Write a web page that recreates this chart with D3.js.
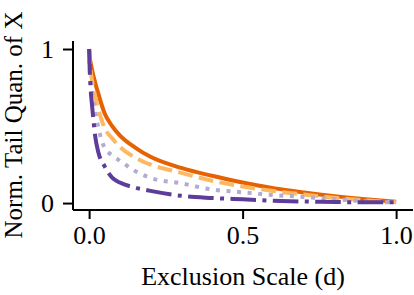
<!DOCTYPE html>
<html>
<head>
<meta charset="utf-8">
<script src="https://cdn.jsdelivr.net/npm/d3@7"></script>
<style>
  html, body { margin: 0; padding: 0; background: #fff; }
  svg { display: block; }
</style>
</head>
<body>
<svg id="chart" width="414" height="295"></svg>
<script>
// ---- data ----
const xValues = [0, 0.002, 0.005, 0.01, 0.02, 0.03, 0.05, 0.075, 0.1, 0.15, 0.2, 0.3, 0.4, 0.5, 0.6, 0.7, 0.8, 0.9, 1.0];
const seriesSolid   = [1.0, 0.95, 0.91, 0.86, 0.78, 0.71, 0.585, 0.50, 0.44, 0.36, 0.30, 0.228, 0.177, 0.134, 0.097, 0.069, 0.045, 0.025, 0.008];
const seriesDashed  = [1.0, 0.93, 0.86, 0.79, 0.69, 0.61, 0.49, 0.42, 0.365, 0.295, 0.25, 0.196, 0.145, 0.108, 0.078, 0.055, 0.034, 0.018, 0.005];
const seriesDotted  = [1.0, 0.88, 0.80, 0.71, 0.59, 0.49, 0.36, 0.31, 0.275, 0.208, 0.163, 0.128, 0.088, 0.07, 0.052, 0.04, 0.025, 0.012, 0.003];
const seriesDashDot = [1.0, 0.86, 0.74, 0.625, 0.43, 0.33, 0.24, 0.165, 0.133, 0.10, 0.079, 0.047, 0.033, 0.024, 0.015, 0.01, 0.007, 0.005, 0.005];
const xTicks = [0, 0.5, 1.0];
const yTicks = [0, 1];
const xLabel = "Exclusion Scale (d)";
const yLabel = "Norm. Tail Quan. of X";

const series = [
  { values: seriesSolid,   color: "#e66101", dash: null },
  { values: seriesDashed,  color: "#fdb863", dash: "14.8,6.4" },
  { values: seriesDotted,  color: "#b2abd2", dash: "4,6.6" },
  { values: seriesDashDot, color: "#5e3c99", dash: "25.6,6.4,4,6.4" }
];

const svg = d3.select("#chart");
const font = "'Liberation Serif', 'DejaVu Serif', serif";

const x = d3.scaleLinear().domain([-0.0525, 1.055]).range([73, 413]);
const y = d3.scaleLinear().domain([-0.045, 1.052]).range([210, 41]);

// lines
const line = d3.line()
  .x((d, i) => x(xValues[i]))
  .y(d => y(d))
  .curve(d3.curveMonotoneX);

series.forEach(s => {
  svg.append("path")
    .datum(s.values)
    .attr("d", line)
    .attr("fill", "none")
    .attr("stroke", s.color)
    .attr("stroke-width", 4)
    .attr("stroke-linecap", "butt")
    .attr("stroke-linejoin", "round")
    .attr("stroke-dasharray", s.dash);
});

// axes
const xAxis = d3.axisBottom(x).tickValues(xTicks).tickFormat(d3.format(".1f")).tickSize(9).tickPadding(7);
const yAxis = d3.axisLeft(y).tickValues(yTicks).tickFormat(d3.format("d")).tickSize(10).tickPadding(9);

const gx = svg.append("g").attr("transform", "translate(0,210)").call(xAxis);
const gy = svg.append("g").attr("transform", "translate(73,0)").call(yAxis);

[gx, gy].forEach(g => {
  g.select(".domain").attr("stroke", "#000").attr("stroke-width", 2);
  g.selectAll(".tick line").attr("stroke", "#000").attr("stroke-width", 2);
  g.selectAll(".tick text").attr("fill", "#000").style("font-family", font).style("font-size", "26px");
});
gx.select(".domain").attr("d", "M73,0H413");
gy.select(".domain").attr("d", "M0,41V210");

// labels
svg.append("text")
  .attr("x", 243).attr("y", 285)
  .attr("text-anchor", "middle")
  .style("font-family", font).style("font-size", "26px")
  .text(xLabel);

svg.append("text")
  .attr("transform", "translate(22,125) rotate(-90)")
  .attr("text-anchor", "middle")
  .style("font-family", font).style("font-size", "25px")
  .text(yLabel);
</script>
</body>
</html>
